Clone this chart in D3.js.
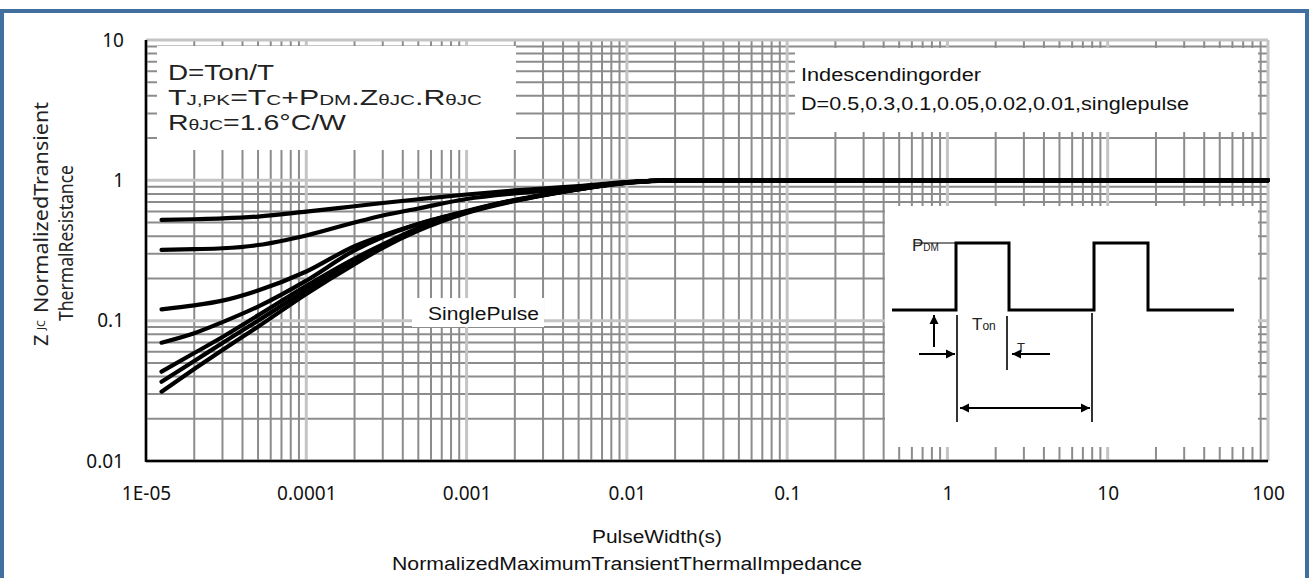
<!DOCTYPE html>
<html>
<head>
<meta charset="utf-8">
<script src="https://cdn.jsdelivr.net/npm/d3@7"></script>
<style>
  body { margin: 0; background: #fff; }
  svg { display: block; }
</style>
</head>
<body>
<svg id="chart" width="1311" height="578"></svg>
<script>
// Pulse width samples (s) shared by every duty-cycle curve
const pulseWidth = [1.25e-5, 2e-5, 3e-5, 5e-5, 1e-4, 2e-4, 3e-4, 5e-4, 1e-3, 2e-3, 3e-3, 5e-3, 1e-2, 2e-2, 100];

// Normalized transient thermal impedance Z(thJC) for each duty cycle
const zD050 = [0.522, 0.528, 0.535, 0.552, 0.598, 0.654, 0.689, 0.733, 0.793, 0.847, 0.875, 0.911, 0.973, 1.0, 1.0];
const zD030 = [0.319, 0.323, 0.328, 0.346, 0.405, 0.501, 0.562, 0.630, 0.736, 0.806, 0.840, 0.889, 0.973, 1.0, 1.0];
const zD010 = [0.1205, 0.1285, 0.139, 0.164, 0.224, 0.340, 0.405, 0.489, 0.605, 0.724, 0.786, 0.867, 0.965, 1.0, 1.0];
const zD005 = [0.0697, 0.0814, 0.0976, 0.126, 0.193, 0.317, 0.395, 0.489, 0.600, 0.724, 0.786, 0.867, 0.965, 1.0, 1.0];
const zD002 = [0.0433, 0.0588, 0.0765, 0.109, 0.177, 0.277, 0.349, 0.457, 0.595, 0.719, 0.786, 0.867, 0.964, 1.0, 1.0];
const zD001 = [0.0367, 0.0516, 0.0693, 0.100, 0.165, 0.264, 0.341, 0.450, 0.592, 0.716, 0.783, 0.865, 0.962, 1.0, 1.0];
const zSingle = [0.0312, 0.0452, 0.0618, 0.0906, 0.155, 0.253, 0.330, 0.438, 0.585, 0.712, 0.780, 0.860, 0.957, 1.0, 1.0];

const dutyCycles = ["0.5", "0.3", "0.1", "0.05", "0.02", "0.01", "single pulse"];
const seriesValues = [zD050, zD030, zD010, zD005, zD002, zD001, zSingle];

// Axis tick values and their printed labels
const xTickValues = [1e-5, 1e-4, 1e-3, 1e-2, 1e-1, 1, 10, 100];
const xTickLabels = ["1E-05", "0.0001", "0.001", "0.01", "0.1", "1", "10", "100"];
const yTickValues = [0.01, 0.1, 1, 10];
const yTickLabels = ["0.01", "0.1", "1", "10"];

const svg = d3.select("#chart");
const W = 1311, H = 578;
const plot = { left: 146, right: 1268, top: 40, bottom: 461 };

const x = d3.scaleLog().domain([1e-5, 100]).range([plot.left, plot.right]);
const y = d3.scaleLog().domain([0.01, 10]).range([plot.bottom, plot.top]);

const SANS = "'Liberation Sans', Arial, sans-serif";
const NOTO = "'Noto Sans', sans-serif";

svg.append("rect").attr("width", W).attr("height", H).attr("fill", "#fff");

// ---- log grid: minor lines (2..9) darker, decade lines lighter ----
const grid = svg.append("g");
function gridValues(lo, hi) {
  const major = [], minor = [];
  for (let e = lo; e < hi; e++) {
    const base = Math.pow(10, e);
    major.push(base);
    for (let m = 2; m <= 9; m++) minor.push(m * base);
  }
  major.push(Math.pow(10, hi));
  return { major, minor };
}
const gx = gridValues(-5, 2);
const gy = gridValues(-2, 1);

grid.selectAll("line.vmin").data(gx.minor).join("line")
  .attr("x1", d => x(d)).attr("x2", d => x(d))
  .attr("y1", plot.top).attr("y2", plot.bottom)
  .attr("stroke", "#8c8c8c").attr("stroke-width", 2);
grid.selectAll("line.hmin").data(gy.minor).join("line")
  .attr("y1", d => y(d)).attr("y2", d => y(d))
  .attr("x1", plot.left).attr("x2", plot.right)
  .attr("stroke", "#8c8c8c").attr("stroke-width", 2);
grid.selectAll("line.vmaj").data(gx.major).join("line")
  .attr("x1", d => x(d)).attr("x2", d => x(d))
  .attr("y1", plot.top).attr("y2", plot.bottom)
  .attr("stroke", "#c4c4c4").attr("stroke-width", 3);
grid.selectAll("line.hmaj").data(gy.major).join("line")
  .attr("y1", d => y(d)).attr("y2", d => y(d))
  .attr("x1", plot.left).attr("x2", plot.right)
  .attr("stroke", "#c4c4c4").attr("stroke-width", 3);

// ---- white annotation panels laid over the grid ----
const panels = svg.append("g").attr("fill", "#fff");
panels.append("rect").attr("x", 157).attr("y", 46).attr("width", 359).attr("height", 104);
panels.append("rect").attr("x", 795).attr("y", 48).attr("width", 463).attr("height", 84);
panels.append("rect").attr("x", 885).attr("y", 206).attr("width", 373).attr("height", 241);
panels.append("rect").attr("x", 412).attr("y", 298).attr("width", 132).attr("height", 29);

// ---- axes ----
const xAxis = d3.axisBottom(x).tickValues(xTickValues)
  .tickFormat((d, i) => xTickLabels[i]).tickSize(0).tickPadding(26);
const gxAxis = svg.append("g").attr("transform", `translate(0,${plot.bottom})`).call(xAxis);
gxAxis.select(".domain").remove();
gxAxis.selectAll("text").attr("font-family", NOTO).attr("font-size", 19).attr("fill", "#111");

const yAxis = d3.axisLeft(y).tickValues(yTickValues)
  .tickFormat((d, i) => yTickLabels[i]).tickSize(0).tickPadding(22);
const gyAxis = svg.append("g").attr("transform", `translate(${plot.left},0)`).call(yAxis);
gyAxis.select(".domain").remove();
gyAxis.selectAll("text").attr("font-family", NOTO).attr("font-size", 19).attr("fill", "#111");

// axis lines (left and bottom) in black
svg.append("line").attr("x1", plot.left).attr("x2", plot.left)
  .attr("y1", plot.top).attr("y2", plot.bottom + 1).attr("stroke", "#000").attr("stroke-width", 2.5);
svg.append("line").attr("x1", plot.left).attr("x2", plot.right)
  .attr("y1", plot.bottom).attr("y2", plot.bottom).attr("stroke", "#000").attr("stroke-width", 2.5);

// ---- curves ----
const line = d3.line()
  .x((d, i) => x(pulseWidth[i]))
  .y(d => y(d))
  .curve(d3.curveMonotoneX);

svg.append("g").selectAll("path").data(seriesValues).join("path")
  .attr("d", d => line(d))
  .attr("fill", "none").attr("stroke", "#000")
  .attr("stroke-width", 4.2).attr("stroke-linecap", "round").attr("stroke-linejoin", "round");

// ---- helper for text made of differently sized runs ----
function richText(parent, px, py, runs, opts = {}) {
  const t = parent.append("text").attr("x", px).attr("y", py)
    .attr("font-family", opts.family || SANS).attr("fill", opts.fill || "#222");
  runs.forEach(([s, size]) => t.append("tspan").attr("font-size", size).text(s));
  if (opts.length) t.attr("textLength", opts.length).attr("lengthAdjust", "spacingAndGlyphs");
  if (opts.anchor) t.attr("text-anchor", opts.anchor);
  if (opts.transform) t.attr("transform", opts.transform);
  return t;
}

const BIG = 22, SMALL = 15;
const notes = svg.append("g");
richText(notes, 168, 80, [["D=Ton/T", BIG]], { length: 106 });
richText(notes, 168, 105, [["T", BIG], ["J,PK", SMALL], ["=T", BIG], ["C", SMALL], ["+P", BIG],
  ["DM", SMALL], [".Z", BIG], ["θJC", SMALL], [".R", BIG], ["θJC", SMALL]], { length: 314 });
richText(notes, 168, 130, [["R", BIG], ["θJC", SMALL], ["=1.6°C/W", BIG]], { length: 178 });

richText(notes, 801, 81, [["Indescendingorder", 18]], { length: 180, fill: "#111" });
richText(notes, 801, 110, [["D=0.5,0.3,0.1,0.05,0.02,0.01,singlepulse", 18]], { length: 388, fill: "#111" });

richText(notes, 428, 320, [["SinglePulse", 18]], { length: 111, fill: "#111" });

// axis titles
richText(svg, 657, 543, [["PulseWidth(s)", 18]], { anchor: "middle", length: 130, fill: "#111" });
richText(svg, 627, 570, [["NormalizedMaximumTransientThermalImpedance", 18]], { anchor: "middle", length: 470, fill: "#111" });

richText(svg, 0, 0, [["Z", 20]], { transform: "translate(48,346) rotate(-90)", family: NOTO, fill: "#222" });
richText(svg, 0, 0, [["JC", 11]], { transform: "translate(45,330) rotate(-90)", family: NOTO, fill: "#222" });
richText(svg, 0, 0, [["NormalizedTransient", 20]], { transform: "translate(48,313) rotate(-90)", family: NOTO, fill: "#222", length: 211 });
richText(svg, 0, 0, [["ThermalResistance", 20]], { transform: "translate(73,321) rotate(-90)", family: NOTO, fill: "#222", length: 156 });

// ---- pulse train sketch inside the lower-right panel ----
const ins = svg.append("g").attr("transform", "translate(884,206)");
const lowY = 104, highY = 37;
const wave = [[8, lowY], [72, lowY], [72, highY], [125, highY], [125, lowY], [210, lowY],
  [210, highY], [264, highY], [264, lowY], [350, lowY]];
ins.append("path").attr("d", d3.line()(wave)).attr("fill", "none")
  .attr("stroke", "#000").attr("stroke-width", 3).attr("stroke-linejoin", "miter");
ins.append("line").attr("x1", 30).attr("x2", 72).attr("y1", highY).attr("y2", highY)
  .attr("stroke", "#000").attr("stroke-width", 1.2);
richText(ins, 28, 45, [["P", 17], ["DM", 10]], { family: SANS, fill: "#222" });
richText(ins, 88, 124, [["T", 17], ["on", 12]], { family: SANS, fill: "#222" });
richText(ins, 133, 146, [["T", 13]], { family: SANS, fill: "#222" });

const thin = [[73, 109, 73, 216], [123, 110, 123, 164], [208, 107, 208, 216]];
ins.selectAll("line.mk").data(thin).join("line")
  .attr("x1", d => d[0]).attr("y1", d => d[1]).attr("x2", d => d[2]).attr("y2", d => d[3])
  .attr("stroke", "#000").attr("stroke-width", 1.6);

function arrow(g, x1, y1, x2, y2, both) {
  g.append("line").attr("x1", x1).attr("y1", y1).attr("x2", x2).attr("y2", y2)
    .attr("stroke", "#000").attr("stroke-width", 2);
  const head = (ax, ay, bx, by) => {
    const a = Math.atan2(by - ay, bx - ax), L = 9, w = 4.5;
    const p = [[bx, by],
      [bx - L * Math.cos(a) + w * Math.sin(a), by - L * Math.sin(a) - w * Math.cos(a)],
      [bx - L * Math.cos(a) - w * Math.sin(a), by - L * Math.sin(a) + w * Math.cos(a)]];
    g.append("path").attr("d", d3.line()(p) + "Z").attr("fill", "#000");
  };
  head(x1, y1, x2, y2);
  if (both) head(x2, y2, x1, y1);
}
arrow(ins, 50, 141, 50, 109);
arrow(ins, 35, 148, 71, 148);
arrow(ins, 166, 148, 128, 148);
arrow(ins, 76, 202, 206, 202, true);

// ---- outer blue frame ----
svg.append("rect").attr("x", 2).attr("y", 11).attr("width", 1305).attr("height", 700)
  .attr("fill", "none").attr("stroke", "#41709f").attr("stroke-width", 4);
</script>
</body>
</html>
